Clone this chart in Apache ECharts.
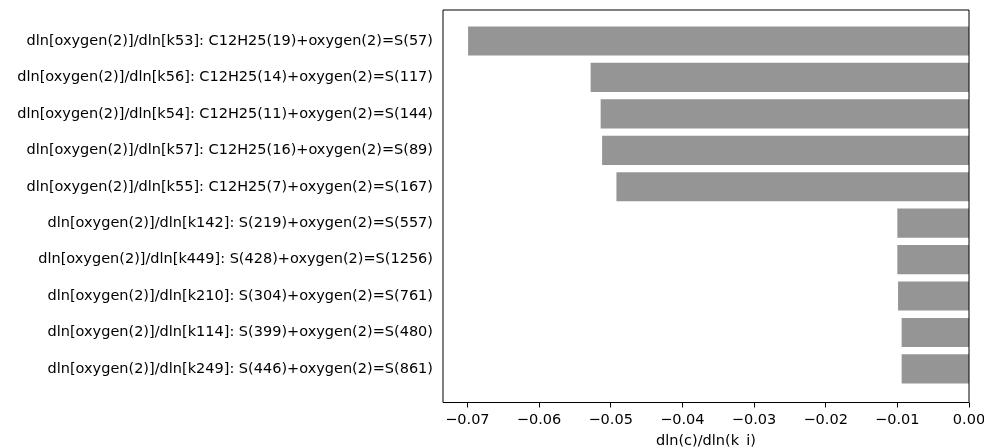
<!DOCTYPE html>
<html>
<head>
<meta charset="utf-8">
<script src="https://cdn.jsdelivr.net/npm/echarts@6/dist/echarts.min.js"></script>
<style>
html,body{margin:0;padding:0;background:#fff;}
#c{width:984px;height:447px;}
</style>
</head>
<body>
<div id="c"></div>
<script>
const categories = [
  "dln[oxygen(2)]/dln[k53]: C12H25(19)+oxygen(2)=S(57)",
  "dln[oxygen(2)]/dln[k56]: C12H25(14)+oxygen(2)=S(117)",
  "dln[oxygen(2)]/dln[k54]: C12H25(11)+oxygen(2)=S(144)",
  "dln[oxygen(2)]/dln[k57]: C12H25(16)+oxygen(2)=S(89)",
  "dln[oxygen(2)]/dln[k55]: C12H25(7)+oxygen(2)=S(167)",
  "dln[oxygen(2)]/dln[k142]: S(219)+oxygen(2)=S(557)",
  "dln[oxygen(2)]/dln[k449]: S(428)+oxygen(2)=S(1256)",
  "dln[oxygen(2)]/dln[k210]: S(304)+oxygen(2)=S(761)",
  "dln[oxygen(2)]/dln[k114]: S(399)+oxygen(2)=S(480)",
  "dln[oxygen(2)]/dln[k249]: S(446)+oxygen(2)=S(861)"
];
const values = [-0.0699, -0.0528, -0.0514, -0.0512, -0.0492, -0.0100, -0.0100, -0.0099, -0.0094, -0.0094];
const xTicks = [-0.07, -0.06, -0.05, -0.04, -0.03, -0.02, -0.01, 0.0];
const xTitle = "dln(c)/dln(k_i)";

const chart = echarts.init(document.getElementById('c'), null, {renderer: 'canvas'});
const FONT = 'DejaVu Sans';
chart.setOption({
  animation: false,
  backgroundColor: '#fff',
  textStyle: {fontFamily: FONT},
  grid: [
    {left: 443, width: 526, top: 10, height: 392.5, show: true, borderColor: '#000', borderWidth: 1,
     backgroundColor: 'transparent', z: 10, containLabel: false, outerBoundsMode: 'none'},
    {left: 443, width: 526, top: 22.8, height: 364.3, containLabel: false, outerBoundsMode: 'none'}
  ],
  xAxis: [
    {gridIndex: 0, type: 'value', show: false, min: 0, max: 1},
    {gridIndex: 1, type: 'value', min: -0.0734, max: 0, position: 'bottom', offset: 15.4,
     axisLine: {show: false},
     splitLine: {show: false},
     axisTick: {show: true, length: 5, lineStyle: {color: '#000', width: 1}, customValues: xTicks},
     axisLabel: {show: true, color: '#000', fontSize: 14.5, fontFamily: FONT, margin: 10.5, customValues: xTicks,
       formatter: v => (Math.abs(v) < 1e-9 ? '0.00' : (v < 0 ? '\u2212' : '') + Math.abs(v).toFixed(2))},
     name: xTitle, nameLocation: 'middle', nameGap: 31.5,
     nameTextStyle: {color: '#000', fontSize: 14.5, fontFamily: FONT}}
  ],
  yAxis: [
    {gridIndex: 0, type: 'value', show: false, min: 0, max: 1},
    {gridIndex: 1, type: 'category', data: categories, inverse: true,
     axisLine: {show: false},
     splitLine: {show: false},
     axisTick: {show: true, alignWithLabel: true, length: 5, lineStyle: {color: '#000', width: 1}},
     axisLabel: {color: '#000', fontSize: 14.5, fontFamily: FONT, margin: 10}}
  ],
  series: [{
    type: 'bar', xAxisIndex: 1, yAxisIndex: 1,
    data: values, barCategoryGap: '20%',
    itemStyle: {color: '#959595'}
  }]
});
</script>
</body>
</html>
